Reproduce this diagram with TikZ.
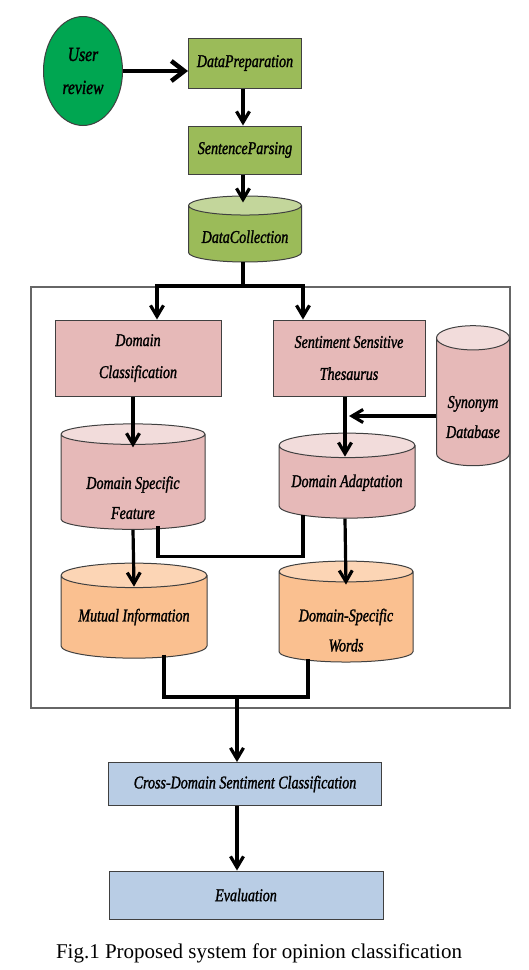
\documentclass[tikz,border=0pt]{standalone}
\usepackage{fontspec}
\setmainfont{Liberation Serif}
\newfontfamily\boxfont{Liberation Serif}[FakeStretch=0.78, FakeBold=1.4]
\usepackage{tikz}
\usetikzlibrary{shapes.geometric, arrows.meta, positioning, calc}

\definecolor{usergreen}{RGB}{0,166,81}
\definecolor{olive}{RGB}{155,187,89}
\definecolor{olivetop}{RGB}{195,214,155}
\definecolor{rose}{RGB}{230,185,184}
\definecolor{rosetop}{RGB}{242,220,219}
\definecolor{peach}{RGB}{250,192,144}
\definecolor{peachtop}{RGB}{252,213,181}
\definecolor{paleblue}{RGB}{185,205,229}

\newcommand{\topgap}[1]{\rule{0pt}{#1}}

\begin{document}
\begin{tikzpicture}[x=1pt, y=-1pt,
    every node/.style={font=\boxfont\fontsize{18}{20}\selectfont\itshape},
    stage/.style={rectangle, draw=black!75, line width=1pt, align=center, inner sep=0pt},
    store/.style={cylinder, shape border rotate=90, draw=black!75, line width=1pt, aspect=0.22,
        align=center, inner sep=0pt, cylinder uses custom fill},
    arrow/.style={-{Straight Barb[length=11pt,width=13pt]}, line width=3.2pt},
    link/.style={line width=3.2pt}
]
    \useasboundingbox (0,0) rectangle (528,970);

    \node[draw=black!60, line width=1.4pt, minimum width=479pt, minimum height=421pt] (frame) at (270.5,497.5) {};

    \node[ellipse, draw=black!75, line width=1pt, fill=usergreen, minimum width=79pt, minimum height=109pt, align=center,
        font=\boxfont\fontsize{20}{22}\selectfont\itshape] (user) at (83,71) {User\\[11pt]review};
    \node[stage, fill=olive, minimum width=113pt, minimum height=50pt] (prep) at (245,63) {DataPreparation};
    \node[stage, fill=olive, minimum width=113pt, minimum height=48pt] (parse) at (245,150) {SentenceParsing};
    \node[store, cylinder body fill=olive, cylinder end fill=olivetop, minimum width=113pt, minimum height=66pt] (dcol) at (245,234) {\topgap{18pt}DataCollection};

    \node[stage, fill=rose, minimum width=166pt, minimum height=76pt] (dclass) at (138,358) {Domain\\[12pt]Classification};
    \node[stage, fill=rose, minimum width=152pt, minimum height=76pt] (thes) at (349,358) {Sentiment Sensitive\\[12pt]Thesaurus};
    \node[store, cylinder body fill=rose, cylinder end fill=rosetop, aspect=0.45, minimum width=73pt, minimum height=140pt] (syn) at (473,402) {\topgap{42pt}Synonym\\[10pt]Database};

    \node[store, cylinder body fill=rose, cylinder end fill=rosetop, minimum width=144pt, minimum height=85pt] (dsf) at (133,482) {\topgap{44pt}Domain Specific\\[10pt]Feature};
    \node[store, cylinder body fill=rose, cylinder end fill=rosetop, minimum width=136pt, minimum height=85pt] (dada) at (347,482) {\topgap{14pt}Domain Adaptation};

    \node[store, cylinder body fill=peach, cylinder end fill=peachtop, minimum width=146pt, minimum height=95pt] (mi) at (134,617) {Mutual Information};
    \node[store, cylinder body fill=peach, cylinder end fill=peachtop, minimum width=134pt, minimum height=95pt] (dsw) at (346,617) {\topgap{39pt}Domain-Specific\\[10pt]Words};

    \node[stage, fill=paleblue, minimum width=273pt, minimum height=43pt] (cdsc) at (245,784) {Cross-Domain Sentiment Classification};
    \node[stage, fill=paleblue, minimum width=274pt, minimum height=48pt] (eval) at (246,895) {Evaluation};

    \node[font=\rmfamily\fontsize{21}{24}\selectfont] (caption) at (259,953) {Fig.1 Proposed system for opinion classification};

    \coordinate (split) at (243,286);
    \coordinate (merge) at (237,697);

    \draw[-{Straight Barb[length=13pt,width=20pt]}, line width=4.5pt] (user.east) -- (user.east -| prep.west);
    \draw[arrow] (prep.south -| split) -- (parse.north -| split);
    \draw[arrow] (parse.south -| split) -- ([yshift=-7pt]dcol.north -| split);
    \draw[link] (dcol.south -| split) -- (split);
    \draw[arrow] (split) -| ([xshift=19pt]dclass.north);
    \draw[arrow] (split) -| ([xshift=-46pt]thes.north);

    \draw[arrow] (dclass.south -| dsf.north) -- ([yshift=-24pt]dsf.north);
    \draw[arrow] ([xshift=-4pt]thes.south) -- ([xshift=-2pt,yshift=-24pt]dada.north);
    \draw[arrow] ([yshift=-14pt]syn.west) -- ([yshift=-14pt]syn.west -| thes.south);

    \draw[link] ([xshift=25pt,yshift=4pt]dsf.south) -- ++(0,31) -| ([xshift=-44pt,yshift=4pt]dada.south);
    \draw[arrow] (dsf.south) -- ([yshift=-24pt]mi.north);
    \draw[arrow] ([xshift=-2pt]dada.south) -- ([yshift=-24pt]dsw.north);

    \draw[link] ([xshift=30pt,yshift=4pt]mi.south) |- (merge) -| ([xshift=-38pt,yshift=4pt]dsw.south);
    \draw[arrow] (merge) -- (merge |- cdsc.north);
    \draw[arrow] (merge |- cdsc.south) -- (merge |- eval.north);
\end{tikzpicture}
\end{document}
